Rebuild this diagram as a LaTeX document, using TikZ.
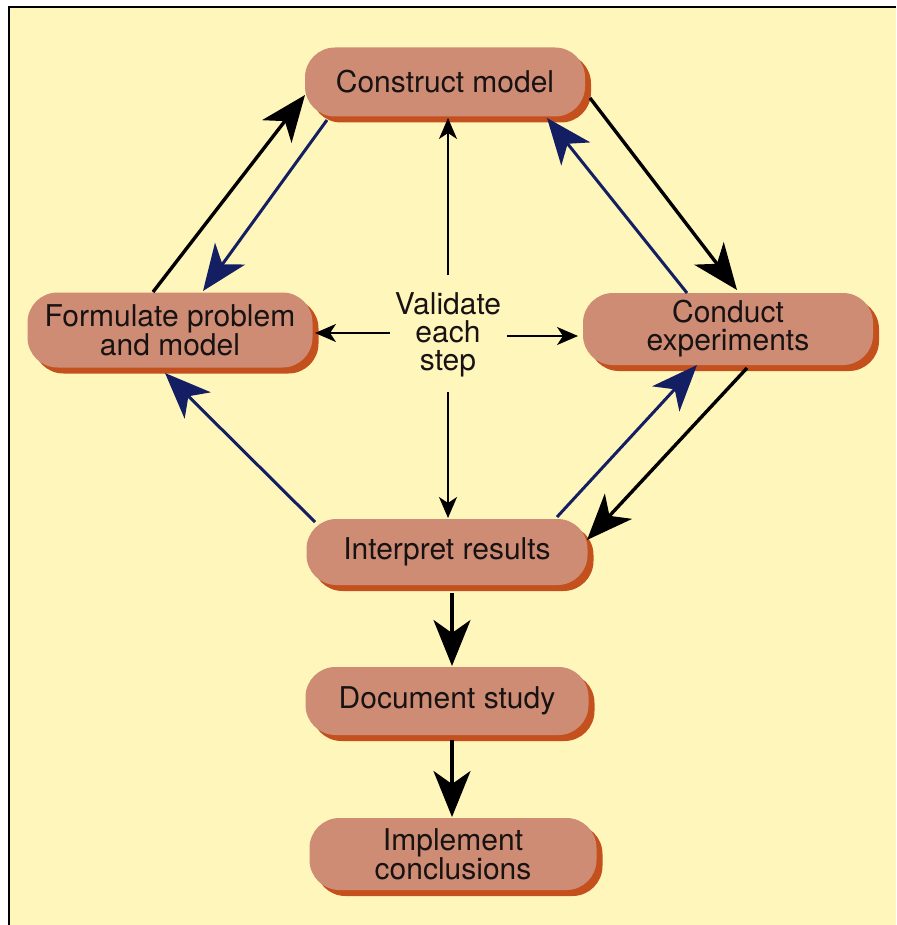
\documentclass[tikz,border=0pt]{standalone}
\usepackage{fontspec}
\setmainfont{TeX Gyre Heros}
\usetikzlibrary{arrows.meta,shadows,calc}
\definecolor{bgc}{RGB}{255,246,188}
\definecolor{boxc}{RGB}{206,140,116}
\definecolor{shadowc}{RGB}{196,80,30}
\definecolor{bluec}{RGB}{20,30,98}
\definecolor{txtc}{RGB}{24,18,18}
\tikzset{
  stepbox/.style={draw=none, fill=boxc, rounded corners=30pt, align=center,
    text=txtc, inner sep=0pt,
    font=\fontsize{30}{28}\selectfont,
    drop shadow={shadow xshift=6pt, shadow yshift=-6pt, opacity=1, fill=shadowc}},
  bigarrow/.style={line width=3.4pt, -{Stealth[length=46pt, width=37pt, inset=13pt]}},
  fwd/.style={bigarrow, draw=black},
  back/.style={bigarrow, draw=bluec, line width=3pt},
  thinarrow/.style={line width=2pt, draw=black, -{Stealth[length=21pt, width=18pt, inset=6pt]}},
  vtext/.style={align=center, text=txtc, font=\fontsize{30}{28}\selectfont, inner sep=0pt}
}
\begin{document}
\begin{tikzpicture}[x=1pt,y=-1pt]
\useasboundingbox (0,0) rectangle (896,925);
\fill[white] (0,0) rectangle (896,925);
\fill[bgc] (9,7) rectangle (896,925);
\draw[line width=2.6pt, black] (9,925) -- (9,7) -- (896,7);

\node[stepbox, minimum width=280pt, minimum height=69pt] (construct) at (445,82) {Construct model};
\node[stepbox, minimum width=285pt, minimum height=75pt] (formulate) at (170,330) {Formulate problem\\and model};
\node[stepbox, minimum width=290pt, minimum height=72pt] (conduct) at (728,329) {Conduct\\experiments};
\node[stepbox, minimum width=281pt, minimum height=66pt] (interpret) at (447,552) {Interpret results};
\node[stepbox, minimum width=283pt, minimum height=68pt] (document) at (447,701) {Document study};
\node[stepbox, minimum width=287pt, minimum height=72pt] (implement) at (453,854) {Implement\\conclusions};
\node[vtext] (validate) at (448,335) {Validate\\each\\step};

% outer cycle
\draw[fwd] ($(formulate)+(-17,-38)$) -- ($(construct)+(-140,13)$);
\draw[back] ($(construct)+(-118,38)$) -- ($(formulate)+(33,-39)$);
\draw[fwd] ($(construct)+(145,16)$) -- ($(conduct)+(9,-39)$);
\draw[back] ($(conduct)+(-41,-36)$) -- ($(construct)+(102,36)$);
\draw[fwd] ($(conduct)+(19,39)$) -- ($(interpret)+(140,-12)$);
\draw[back] ($(interpret)+(110,-35)$) -- ($(conduct)+(-31,36)$);
\draw[back] ($(interpret)+(-132,-30)$) -- ($(formulate)+(-5,43)$);

% validate arrows
\draw[thinarrow] ($(validate)+(0,-60)$) -- ($(construct)+(3,36)$);
\draw[thinarrow] ($(validate)+(0,57)$) -- ($(interpret)+(1,-34)$);
\draw[thinarrow] ($(validate)+(-58,-2)$) -- ($(formulate)+(145,3)$);
\draw[thinarrow] ($(validate)+(59,1)$) -- ($(conduct)+(-150,7)$);

% lower chain
\draw[fwd] ($(interpret)+(5,41)$) -- ($(document)+(5,-35)$);
\draw[fwd] ($(document)+(5,39)$) -- ($(implement)+(-1,-37)$);
\end{tikzpicture}
\end{document}
